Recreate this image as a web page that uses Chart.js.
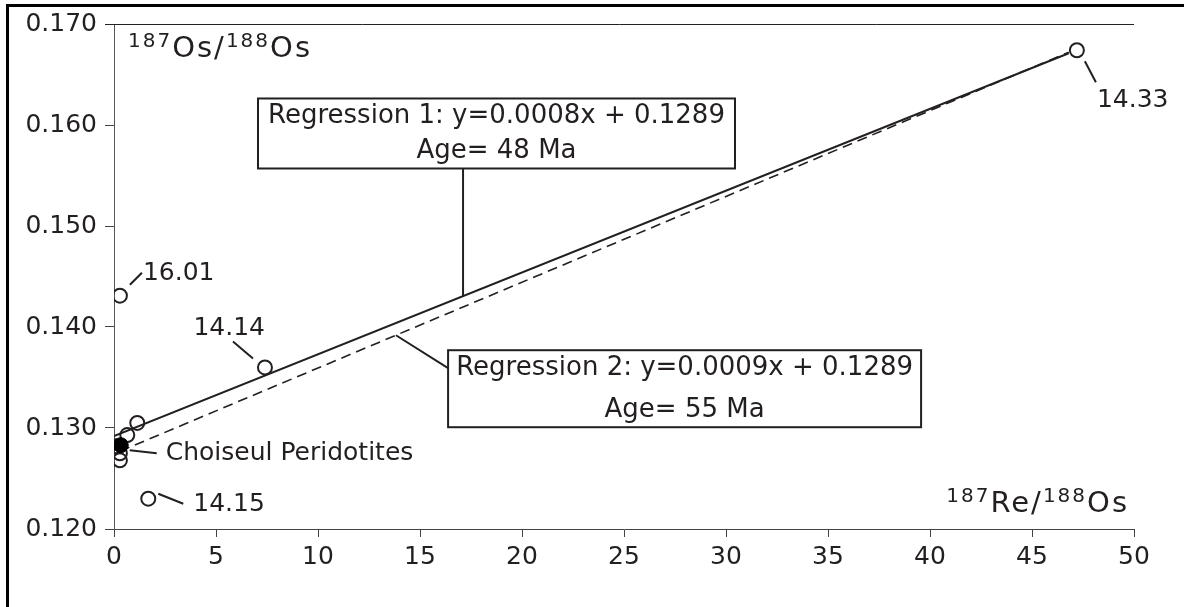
<!DOCTYPE html>
<html>
<head>
<meta charset="utf-8">
<script src="https://cdn.jsdelivr.net/npm/chart.js@4.4.0/dist/chart.umd.min.js"></script>
<style>
  html, body { margin: 0; padding: 0; background: #fff; overflow: hidden; }
  canvas { display: block; }
</style>
</head>
<body>
<canvas id="isoChart" width="1184" height="607"></canvas>
<script>
// ===== data =====
const xTicks = [0, 5, 10, 15, 20, 25, 30, 35, 40, 45, 50];
const yTicks = [0.120, 0.130, 0.140, 0.150, 0.160, 0.170];

// open circles: 187Re/188Os and 187Os/188Os
const sampleX = [47.2, 0.29, 7.4, 1.14, 0.65, 0.10, 0.29, 0.29, 1.68];
const sampleY = [0.1674, 0.1431, 0.1360, 0.1305, 0.1293, 0.1282, 0.1275, 0.1268, 0.1230];
const sampleLabels = ['14.33', '16.01', '14.14', '', '', '', '', '', '14.15'];

// filled circle (Choiseul peridotites)
const choiseulX = [0.33];
const choiseulY = [0.1283];

// regression lines (end points)
const reg1X = [0, 46.8];
const reg1Y = [0.1292, 0.1671];
const reg2X = [0.3, 46.8];
const reg2Y = [0.1277, 0.1672];

const INK = '#231f20';
const FONT = '"DejaVu Sans", Verdana, sans-serif';

function pts(xs, ys) { return xs.map((x, i) => ({ x: x, y: ys[i] })); }
function lineYAt(xs, ys, x) { return ys[0] + (ys[1] - ys[0]) * (x - xs[0]) / (xs[1] - xs[0]); }

// label leaders: offsets in px from the labelled point
const pointNotes = [
  { idx: 0, leader: [8, 11, 19, 32], dx: 20, dy: 50, align: 'left' },
  { idx: 1, leader: [10, -11, 22, -23], dx: 23, dy: -22, align: 'left' },
  { idx: 2, leader: [-32, -26, -12, -9], dx: 0, dy: -39, align: 'right' },
  { idx: 8, leader: [10, -5, 35, 5], dx: 45, dy: 6, align: 'left' }
];
const choiseulNote = { text: 'Choiseul Peridotites', leader: [9, 5, 36, 8], dx: 45, dy: 8 };

const regBoxes = [
  { lines: ['Regression 1: y=0.0008x + 0.1289', 'Age= 48 Ma'], cx: 18.75, cy: 0.15916, w: 477, h: 70,
    lineX: reg1X, lineY: reg1Y, hitX: 17.11, from: 'bottom' },
  { lines: ['Regression 2: y=0.0009x + 0.1289', 'Age= 55 Ma'], cx: 27.97, cy: 0.13389, w: 473, h: 77,
    lineX: reg2X, lineY: reg2Y, hitX: 13.82, from: 'left' }
];

// draws text with smaller superscript parts: [[text, isSup], ...]
function drawRich(ctx, parts, x, y, size, supSize, align) {
  let total = 0;
  parts.forEach(p => {
    ctx.font = (p[1] ? supSize : size) + 'px ' + FONT;
    total += ctx.measureText(p[0]).width;
  });
  let cx = align === 'right' ? x - total : x;
  parts.forEach(p => {
    ctx.font = (p[1] ? supSize : size) + 'px ' + FONT;
    ctx.textAlign = 'left';
    ctx.textBaseline = 'alphabetic';
    ctx.fillText(p[0], cx, p[1] ? y - size * 0.34 : y);
    cx += ctx.measureText(p[0]).width;
  });
}

const annotations = {
  id: 'annotations',
  afterDraw(chart) {
    const ctx = chart.ctx;
    const xs = chart.scales.x, ys = chart.scales.y;
    const area = chart.chartArea;
    ctx.save();

    // outer frame (only left and top visible in the crop)
    ctx.fillStyle = '#000';
    ctx.fillRect(6, 4, 3, 603);
    ctx.fillRect(6, 4, 1178, 3);

    // top line at 0.170
    ctx.strokeStyle = '#222';
    ctx.lineWidth = 1;
    const yTop = Math.round(ys.getPixelForValue(yTicks[yTicks.length - 1])) + 0.5;
    ctx.beginPath();
    ctx.moveTo(area.left - 9, yTop);
    ctx.lineTo(area.right, yTop);
    ctx.stroke();

    ctx.fillStyle = INK;
    ctx.strokeStyle = INK;

    // point labels
    ctx.lineWidth = 2;
    ctx.font = '25px ' + FONT;
    ctx.textBaseline = 'middle';
    pointNotes.forEach(n => {
      const px = xs.getPixelForValue(sampleX[n.idx]);
      const py = ys.getPixelForValue(sampleY[n.idx]);
      ctx.beginPath();
      ctx.moveTo(px + n.leader[0], py + n.leader[1]);
      ctx.lineTo(px + n.leader[2], py + n.leader[3]);
      ctx.stroke();
      ctx.textAlign = n.align;
      ctx.fillText(sampleLabels[n.idx], px + n.dx, py + n.dy);
    });
    {
      const px = xs.getPixelForValue(choiseulX[0]);
      const py = ys.getPixelForValue(choiseulY[0]);
      const n = choiseulNote;
      ctx.beginPath();
      ctx.moveTo(px + n.leader[0], py + n.leader[1]);
      ctx.lineTo(px + n.leader[2], py + n.leader[3]);
      ctx.stroke();
      ctx.textAlign = 'left';
      ctx.fillText(n.text, px + n.dx, py + n.dy);
    }

    // regression boxes with leaders
    regBoxes.forEach(b => {
      const cx = xs.getPixelForValue(b.cx), cy = ys.getPixelForValue(b.cy);
      const left = cx - b.w / 2, top = cy - b.h / 2;
      const hx = xs.getPixelForValue(b.hitX);
      const hy = ys.getPixelForValue(lineYAt(b.lineX, b.lineY, b.hitX));
      ctx.lineWidth = 2;
      ctx.beginPath();
      if (b.from === 'bottom') {
        ctx.moveTo(hx, top + b.h);
      } else {
        ctx.moveTo(left, top + 18);
      }
      ctx.lineTo(hx, hy);
      ctx.stroke();
      ctx.fillStyle = '#fff';
      ctx.fillRect(left, top, b.w, b.h);
      ctx.strokeRect(left, top, b.w, b.h);
      ctx.fillStyle = INK;
      ctx.font = '26px ' + FONT;
      ctx.textAlign = 'center';
      ctx.textBaseline = 'middle';
      ctx.fillText(b.lines[0], cx, top + 18);
      ctx.fillText(b.lines[1], cx, top + b.h - 17);
    });

    // axis titles
    ctx.letterSpacing = '2px';
    drawRich(ctx, [['187', true], ['Os/', false], ['188', true], ['Os', false]], 128, 57, 29, 20, 'left');
    drawRich(ctx, [['187', true], ['Re/', false], ['188', true], ['Os', false]], 1129, 512, 29, 20, 'right');
    ctx.letterSpacing = '0px';

    ctx.restore();
  }
};

const chart = new Chart(document.getElementById('isoChart').getContext('2d'), {
  type: 'scatter',
  data: {
    datasets: [
      {
        label: 'Regression 1',
        data: pts(reg1X, reg1Y),
        showLine: true,
        borderColor: INK,
        borderWidth: 2,
        pointRadius: 0,
        order: 3
      },
      {
        label: 'Regression 2',
        data: pts(reg2X, reg2Y),
        showLine: true,
        borderColor: INK,
        borderWidth: 1.6,
        borderDash: [10, 6],
        pointRadius: 0,
        order: 2
      },
      {
        label: 'Samples',
        data: pts(sampleX, sampleY),
        pointStyle: 'circle',
        pointRadius: 7,
        borderWidth: 2,
        borderColor: INK,
        backgroundColor: 'rgba(0,0,0,0)',
        order: 1
      },
      {
        label: 'Choiseul Peridotites',
        data: pts(choiseulX, choiseulY),
        pointStyle: 'circle',
        pointRadius: 7.5,
        borderWidth: 1,
        borderColor: '#000',
        backgroundColor: '#000',
        order: 0
      }
    ]
  },
  options: {
    responsive: false,
    animation: false,
    devicePixelRatio: 1,
    layout: { padding: { left: 0, top: 24, right: 50, bottom: 0 } },
    plugins: { legend: { display: false }, tooltip: { enabled: false } },
    scales: {
      x: {
        type: 'linear',
        min: 0, max: 50,
        afterBuildTicks: s => { s.ticks = xTicks.map(v => ({ value: v })); },
        afterFit: s => { s.height = 78; },
        grid: { drawOnChartArea: false, drawTicks: true, tickLength: 8, color: '#444', lineWidth: 1 },
        border: { display: true, color: '#444', width: 1 },
        ticks: { color: INK, font: { family: FONT, size: 25 }, padding: 5, maxRotation: 0 }
      },
      y: {
        type: 'linear',
        min: 0.120, max: 0.170,
        afterBuildTicks: s => { s.ticks = yTicks.map(v => ({ value: v })); },
        afterFit: s => { s.width = 114; },
        grid: { drawOnChartArea: false, drawTicks: true, tickLength: 9, color: '#444', lineWidth: 1 },
        border: { display: true, color: '#555', width: 1 },
        ticks: { color: INK, font: { family: FONT, size: 25 }, padding: 8, callback: v => v.toFixed(3) }
      }
    }
  },
  plugins: [annotations]
});
</script>
</body>
</html>
